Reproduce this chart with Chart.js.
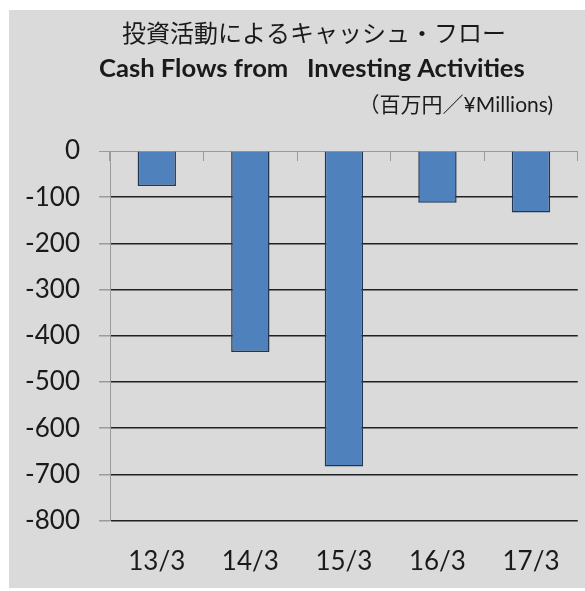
<!DOCTYPE html>
<html>
<head>
<meta charset="utf-8">
<script src="https://cdn.jsdelivr.net/npm/chart.js@4.4.1/dist/chart.umd.min.js"></script>
<style>
    html, body { margin: 0; padding: 0; background: #fff; }
    #box { position: absolute; left: 9px; top: 10px; width: 576px; height: 578px; background: #dadada; }
</style>
</head>
<body>
<div id="box"><canvas id="chart" width="576" height="578"></canvas></div>
<script>
const categories = ["13/3", "14/3", "15/3", "16/3", "17/3"];
const cashFlows = [-76, -435, -683, -112, -133];
const yTicks = [0, -100, -200, -300, -400, -500, -600, -700, -800];

const titleJa = "投資活動によるキャッシュ・フロー";
const titleEn = "Cash Flows from   Investing Activities";
const unitText = "（百万円／¥Millions)";

const titlePlugin = {
    id: "titles",
    afterDraw(chart) {
        const c = chart.ctx;
        c.save();
        c.fillStyle = "#1a1a1a";
        c.textBaseline = "middle";
        c.textAlign = "center";
        c.font = "24px 'Noto Sans CJK JP'";
        c.fillText(titleJa, 305, 23);
        c.textBaseline = "alphabetic";
        c.textAlign = "left";
        c.font = "bold 25.6px Lato";
        c.fillText(titleEn, 90, 67);
        c.textAlign = "right";
        c.font = "21px Lato, 'Noto Sans CJK JP'";
        c.fillText(unitText, 544, 102);
        c.restore();
    }
};

const ctx = document.getElementById("chart").getContext("2d");
new Chart(ctx, {
    type: "bar",
    data: {
        labels: categories,
        datasets: [{
            data: cashFlows,
            backgroundColor: "#4f81bd",
            borderColor: "#24364f",
            borderWidth: 1.5,
            barPercentage: 0.41,
            categoryPercentage: 1
        }]
    },
    options: {
        responsive: false,
        animation: false,
        layout: { padding: { top: 141, right: 5, bottom: 0, left: 0 } },
        plugins: {
            legend: { display: false },
            tooltip: { enabled: false }
        },
        scales: {
            x: {
                afterFit: (scale) => { scale.height = 67.4; },
                grid: { display: false, drawTicks: false },
                border: { display: false },
                ticks: { color: "#1a1a1a", font: { family: "Lato", size: 26 }, padding: 25 }
            },
            x2: {
                type: "category",
                position: { y: 0 },
                grid: { drawOnChartArea: false, color: "#9a9a9a", tickLength: 10 },
                border: { display: false },
                ticks: { display: false }
            },
            y: {
                min: -800,
                max: 0,
                afterBuildTicks: (scale) => { scale.ticks = yTicks.map(v => ({ value: v })); },
                afterFit: (scale) => { scale.width = 101; },
                grid: {
                    color: (c) => c.tick && c.tick.value === 0 ? "#9a9a9a" : "#202020",
                    lineWidth: (c) => c.tick && c.tick.value === 0 ? 1 : 1.5,
                    tickColor: "#9a9a9a",
                    tickLength: 11
                },
                border: { color: "#9a9a9a", width: 1 },
                ticks: { color: "#1a1a1a", font: { family: "Lato", size: 26 }, padding: 19 }
            }
        }
    },
    plugins: [titlePlugin]
});
</script>
</body>
</html>
